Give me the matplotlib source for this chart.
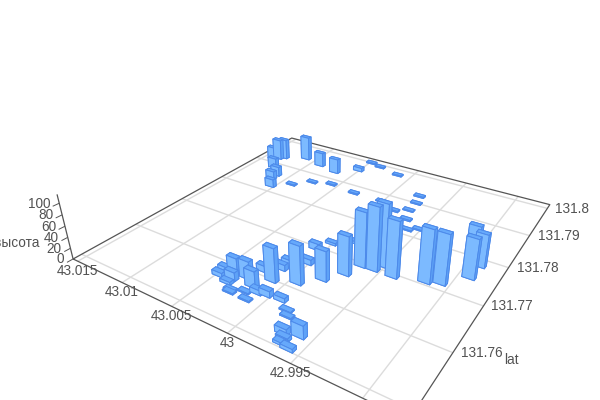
import numpy as np
import matplotlib
matplotlib.use('Agg')
import matplotlib.pyplot as plt
from mpl_toolkits.mplot3d import proj3d

plt.rcParams['font.family'] = ['Liberation Sans', 'DejaVu Sans']

lon = [43.0011, 42.9994, 42.9981, 42.9971, 43.0024, 43.0014, 43.0012, 43.0002, 43.0008, 43.0001, 42.9986, 42.9966, 42.9956, 42.9953, 42.994, 42.9917, 42.9907, 42.9892, 42.9899, 42.9891, 42.9976, 42.9973, 42.9984, 42.9973, 42.9968, 42.996, 42.9952, 43.0001, 42.9967, 43.0013, 43.0036, 43.0048, 43.003, 43.0057, 43.0075, 43.0089, 43.0136, 43.0132, 43.0111, 43.009, 43.0069, 43.0051, 43.014, 43.0127, 43.0114, 43.0114, 43.0104, 43.0048, 43.0048, 43.0042, 43.0029, 43.0037, 43.0019, 43.0037, 43.0029, 43.0028, 43.0019, 43.0013, 43.0011, 43.0004, 42.9992, 42.9982, 42.9978, 42.996, 42.9971, 42.9967, 42.9966, 42.9959]
lat = [131.7599, 131.7613, 131.7638, 131.7665, 131.7611, 131.7628, 131.7639, 131.7659, 131.7696, 131.772, 131.7741, 131.7694, 131.7695, 131.771, 131.7695, 131.7708, 131.7716, 131.7749, 131.7795, 131.7783, 131.7925, 131.79, 131.7858, 131.7872, 131.7843, 131.7816, 131.7826, 131.7875, 131.7776, 131.7978, 131.7991, 131.7998, 131.7875, 131.7882, 131.7871, 131.7844, 131.7922, 131.793, 131.7949, 131.7938, 131.7928, 131.7958, 131.7914, 131.7884, 131.7861, 131.7846, 131.782, 131.757, 131.7582, 131.7589, 131.7586, 131.7573, 131.7575, 131.7563, 131.7553, 131.7549, 131.756, 131.7548, 131.7567, 131.757, 131.7572, 131.7559, 131.755, 131.7529, 131.7523, 131.7515, 131.7507, 131.7504]
height = [60.7, 68.8, 53.8, 70.2, 11.3, 10.8, 13.3, 9.7, 11.7, 4.1, 4.1, 98, 113, 112, 99.8, 94.5, 88.8, 71.8, 61.9, 60,
          2.3, 1.8, 2.3, 1.8, 2.3, 1.8, 1.8, 1.6, 2.8, 2.3, 2.3, 2.3, 2.3, 2.3, 2.1, 2.1,
          42.1, 41.2, 49.2, 28.8, 29.9, 7.4, 26.5, 20.9, 18.9, 15.9, 15.9,
          7.6, 9.4, 26.2, 32.2, 15.2, 29.9, 5.1, 2.5, 2.1, 2.1, 2.1, 8.5, 11, 7.4, 2.1, 2.1, 22.5, 10.6, 5.8, 4.1, 5.8]

x_ticks = [43.015, 43.01, 43.005, 43, 42.995, 42.99]
x_labels = ['43.015', '43.01', '43.005', '43', '42.995']
y_ticks = [131.75, 131.76, 131.77, 131.78, 131.79, 131.8]
y_labels = ['', '131.76', '131.77', '131.78', '131.79', '131.8']
z_ticks = [0, 20, 40, 60, 80, 100]

xlim = (43.01556, 42.98715)  # reversed, the floor runs the other way round
ylim = (131.74856, 131.80151)
zmax = 115

fig = plt.figure(figsize=(6, 4), dpi=100)
ax = fig.add_subplot(projection='3d')
ax.set_axis_off()
ax.computed_zorder = False

# bar footprint in degrees
dx = 0.00095
dy = 0.0008
n = len(lon)
# faces: -z +z -y +y -x +x
face = ['#5c9ef5', '#66a9fb', '#7cbaff', '#5c9ef5', '#5ea2f7', '#5ea2f7']
bars = ax.bar3d(np.array(lon) - dx / 2, np.array(lat) - dy / 2, np.zeros(n), dx, dy, height,
                color=face * n, edgecolor='#4d8aea', linewidth=0.7, shade=False, zsort='min', zorder=3)
bars.set_clip_on(False)

ax.set_xlim(*xlim, view_margin=0)
ax.set_ylim(*ylim, view_margin=0)
ax.set_zlim(0, zmax, view_margin=0)

# camera found by fitting the box corners of the picture
size = 1.0991
cx = 328.206
cy = 201.524
ax.view_init(28.572, -57.259)
ax.set_box_aspect((5.0697, 5.0798, 1), zoom=4.447)
ax.set_proj_type('persp', focal_length=1.0)
ax.set_position([(cx - size * 50) / 600, (400 - cy - size * 50) / 400, size / 6, size / 4])
ax.patch.set_visible(False)


def line(xs, ys, zs, col, lw, zo):
    l, = ax.plot(xs, ys, zs, color=col, lw=lw, zorder=zo, solid_capstyle='butt')
    l.set_clip_on(False)


for t in x_ticks:
    line([t, t], ylim, [0, 0], '#dcdcdc', 1.0, 1)
for t in y_ticks:
    line(xlim, [t, t], [0, 0], '#dcdcdc', 1.0, 1)

edge = '#555555'
line([xlim[0], xlim[1], xlim[1], xlim[0], xlim[0]], [ylim[0], ylim[0], ylim[1], ylim[1], ylim[0]],
     [0, 0, 0, 0, 0], edge, 0.9, 2)
line([xlim[0], xlim[0]], [ylim[0], ylim[0]], [0, zmax], edge, 0.9, 2)

M = ax.get_proj()


def label(txt, x, y, z, off_x, off_y, ha):
    xs, ys, _ = proj3d.proj_transform(x, y, z, M)
    ax.annotate(txt, (xs, ys), xytext=(off_x, -off_y), textcoords='offset pixels', ha=ha, va='center',
                fontsize=9.8, color='#525252', annotation_clip=False, zorder=5)


for t, s in zip(x_ticks, x_labels):
    label(s, t, ylim[0], 0, 0, 9.5, 'center')
for t, s in zip(y_ticks, y_labels):
    if s:
        label(s, xlim[1], t, 0, 8, 0.5, 'left')
for t in z_ticks:
    label(str(t), xlim[0], ylim[0], t, -9, 0.5, 'right')
    line([xlim[0], xlim[0]], [ylim[0], ylim[0] - 0.001], [t, t], edge, 0.7, 2)

fig.text(16.5 / 600, 1 - 243 / 400, 'высота', ha='center', va='center', fontsize=9.8, color='#525252')
fig.text(511 / 600, 1 - 360.5 / 400, 'lat', ha='center', va='center', fontsize=9.8, color='#525252')

fig.savefig('out.png', dpi=100)
